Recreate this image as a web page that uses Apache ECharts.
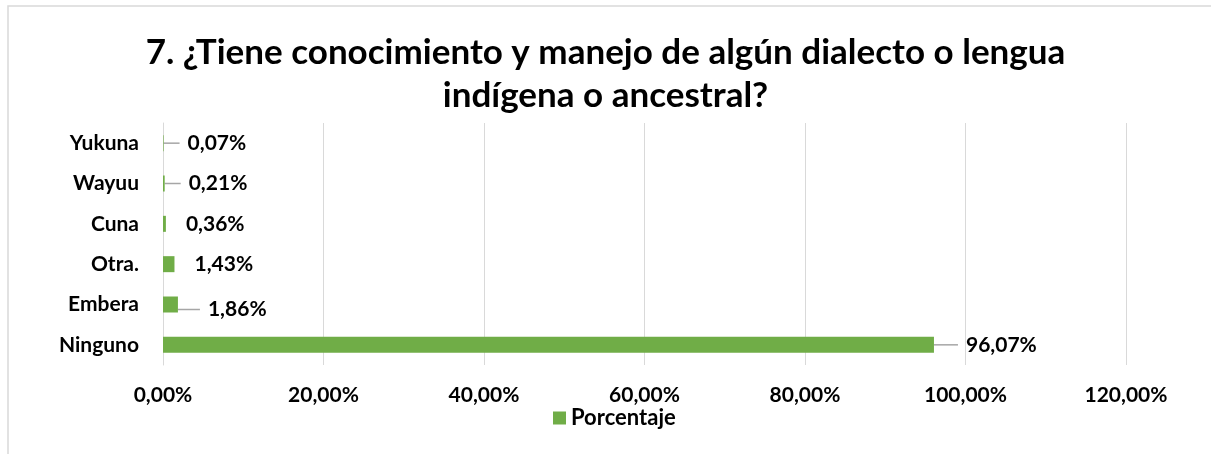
<!DOCTYPE html>
<html><head><meta charset="utf-8">
<script src="https://cdn.jsdelivr.net/npm/echarts@6/dist/echarts.min.js"></script>
<style>html,body{margin:0;padding:0;background:#fff}#c{width:1211px;height:454px}</style>
</head><body><div id="c"></div>
<script>
const titleText = '7. ¿Tiene conocimiento y manejo de algún dialecto o lengua\nindígena o ancestral?';
const categories = ['Ninguno', 'Embera', 'Otra.', 'Cuna', 'Wayuu', 'Yukuna'];
const values = [96.07, 1.86, 1.43, 0.36, 0.21, 0.07];
const seriesName = 'Porcentaje';
const xMin = 0, xMax = 120, xStep = 20;
const FONT = 'Lato';
const fmt = v => v.toFixed(2).replace('.', ',') + '%';

// label callout offsets (styling, per bar)
const labelDx = [22, 20, 10, 10, 14, 14];
const labelDy = [0, 5, 0, 0, 0, 0];
const showLeader = [true, true, false, false, true, true];

const chart = echarts.init(document.getElementById('c'), null, {renderer: 'canvas'});
chart.setOption({
  animation: false,
  textStyle: {fontFamily: FONT},
  title: {
    text: titleText, left: 'center', top: 26,
    textStyle: {fontFamily: FONT, fontWeight: 'bold', fontSize: 35, color: '#000', lineHeight: 43}
  },
  graphic: [{type: 'rect', shape: {x: 8, y: 6, width: 1240, height: 470}, style: {fill: 'none', stroke: '#d9d9d9', lineWidth: 1.5}, silent: true}],
  legend: {
    bottom: 20, left: 548, itemWidth: 13, itemHeight: 13, icon: 'rect', itemGap: 6,
    textStyle: {fontFamily: FONT, fontWeight: 'bold', fontSize: 22, color: '#000'},
    data: [seriesName]
  },
  grid: {left: 163, right: 85, top: 123, bottom: 89, containLabel: false},
  xAxis: {
    type: 'value', min: xMin, max: xMax, interval: xStep,
    axisLine: {show: false}, axisTick: {show: false},
    splitLine: {lineStyle: {color: '#d9d9d9', width: 1}},
    axisLabel: {formatter: v => fmt(v), fontFamily: FONT, fontWeight: 'bold', fontSize: 21, color: '#000', margin: 20}
  },
  yAxis: {
    type: 'category', data: categories,
    axisLine: {show: true, lineStyle: {color: '#d9d9d9'}}, axisTick: {show: false},
    axisLabel: {fontFamily: FONT, fontWeight: 'bold', fontSize: 21, color: '#000', margin: 24}
  },
  series: [{
    name: seriesName, type: 'bar', barWidth: 16,
    data: values.map((v, i) => ({value: v, labelLine: {show: showLeader[i]}})),
    itemStyle: {color: '#70AD47'},
    label: {show: true, position: 'right', distance: 2, padding: [0, 0, 0, 8],
      backgroundColor: 'rgba(255,255,255,0)', formatter: p => fmt(p.value),
      fontFamily: FONT, fontWeight: 'bold', fontSize: 21, color: '#000'},
    labelLayout: function (p) {
      return {dx: labelDx[p.dataIndex], dy: labelDy[p.dataIndex]};
    },
    labelLine: {show: true, lineStyle: {color: '#a6a6a6', width: 1.5}}
  }]
});
</script></body></html>
